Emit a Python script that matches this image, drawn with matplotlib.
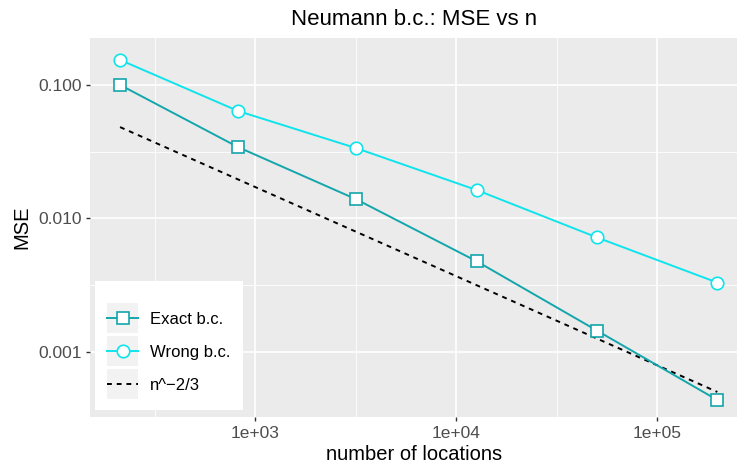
import numpy as np
import matplotlib.pyplot as plt
from matplotlib.legend_handler import HandlerLine2D
from matplotlib.patches import Rectangle
from matplotlib.ticker import FixedLocator, FixedFormatter, NullFormatter

plt.rcParams['font.family'] = ['Liberation Sans', 'DejaVu Sans']

# dane
n_loc = [213, 822, 3180, 12700, 50200, 199000]
mse_exact = [0.100, 0.0342, 0.0139, 0.00475, 0.00144, 0.000435]
mse_wrong = [0.154, 0.0638, 0.0336, 0.01626, 0.00719, 0.0033]
ref_n = [213, 199000]
ref_mse = [0.0483, 0.0005]

x_ticks = [1e3, 1e4, 1e5]
x_labels = ["1e+03", "1e+04", "1e+05"]
y_ticks = [0.001, 0.01, 0.1]
y_labels = ["0.001", "0.010", "0.100"]

col_exact = "#13A6AC"
col_wrong = "#0FE4EC"


# klucz legendy z szarym tlem jak w ggplot
class SzaryKlucz(HandlerLine2D):
    def create_artists(self, legend, orig_handle, xdescent, ydescent,
                       width, height, fontsize, trans):
        arts = super().create_artists(legend, orig_handle, xdescent, ydescent,
                                      width, height, fontsize, trans)
        bg = Rectangle((-xdescent, -ydescent - 6.5), width, height + 13,
                       facecolor="#F2F2F2", edgecolor="none", transform=trans)
        return [bg] + list(arts)


fig = plt.figure(figsize=(7.38, 4.67), dpi=100)
ax = fig.add_axes([0.122, 0.107, 0.877, 0.812])
ax.set_facecolor("#EBEBEB")

ax.set_xscale("log")
ax.set_yscale("log")
ax.set_xlim(10 ** 2.179, 10 ** 5.398)
ax.set_ylim(10 ** -3.489, 10 ** -0.647)

# siatka
for v in [10 ** 2.5, 10 ** 3.5, 10 ** 4.5]:
    ax.axvline(v, color="white", lw=0.6, zorder=0)
for v in [10 ** -1.5, 10 ** -2.5]:
    ax.axhline(v, color="white", lw=0.6, zorder=0)
for v in x_ticks:
    ax.axvline(v, color="white", lw=1.2, zorder=0)
for v in y_ticks:
    ax.axhline(v, color="white", lw=1.2, zorder=0)

l1, = ax.plot(n_loc, mse_exact, color=col_exact, lw=1.4, marker="s", ms=8,
              mfc="white", mec=col_exact, mew=1.2, label="Exact b.c.", zorder=3)
l2, = ax.plot(n_loc, mse_wrong, color=col_wrong, lw=1.4, marker="o", ms=9,
              mfc="white", mec=col_wrong, mew=1.2, label="Wrong b.c.", zorder=3)
l3, = ax.plot(ref_n, ref_mse, color="black", lw=1.4, ls=(0, (2.5, 2.5)),
              label="n^\u22122/3", zorder=2)

ax.xaxis.set_major_locator(FixedLocator(x_ticks))
ax.xaxis.set_major_formatter(FixedFormatter(x_labels))
ax.yaxis.set_major_locator(FixedLocator(y_ticks))
ax.yaxis.set_major_formatter(FixedFormatter(y_labels))
ax.xaxis.set_minor_locator(FixedLocator([]))
ax.yaxis.set_minor_locator(FixedLocator([]))
ax.xaxis.set_minor_formatter(NullFormatter())
ax.yaxis.set_minor_formatter(NullFormatter())
ax.tick_params(axis="both", which="major", length=3.2, width=1, color="#333333",
               labelsize=12.5, labelcolor="#4D4D4D", pad=3)

for s in ax.spines.values():
    s.set_visible(False)

ax.set_xlabel("number of locations", fontsize=14.5, labelpad=3)
ax.set_ylabel("MSE", fontsize=14.5, labelpad=5)
ax.set_title("Neumann b.c.: MSE vs n", fontsize=16, pad=9)

# biale tlo legendy rysowane osobno (inne marginesy niz w matplotlib)
ax.add_patch(Rectangle((0.0077, 0.0185), 0.2288, 0.340, transform=ax.transAxes,
                       facecolor="white", edgecolor="none", zorder=4))

leg = ax.legend(handles=[l1, l2, l3], loc="lower left",
                bbox_to_anchor=(-0.0015, 0.016), frameon=False,
                fontsize=12, handlelength=1.85, handletextpad=0.72,
                labelspacing=1.08, borderpad=1.1, borderaxespad=0,
                handler_map={l1: SzaryKlucz(), l2: SzaryKlucz(), l3: SzaryKlucz()})
leg.set_zorder(5)

fig.savefig("out.png", dpi=100)
